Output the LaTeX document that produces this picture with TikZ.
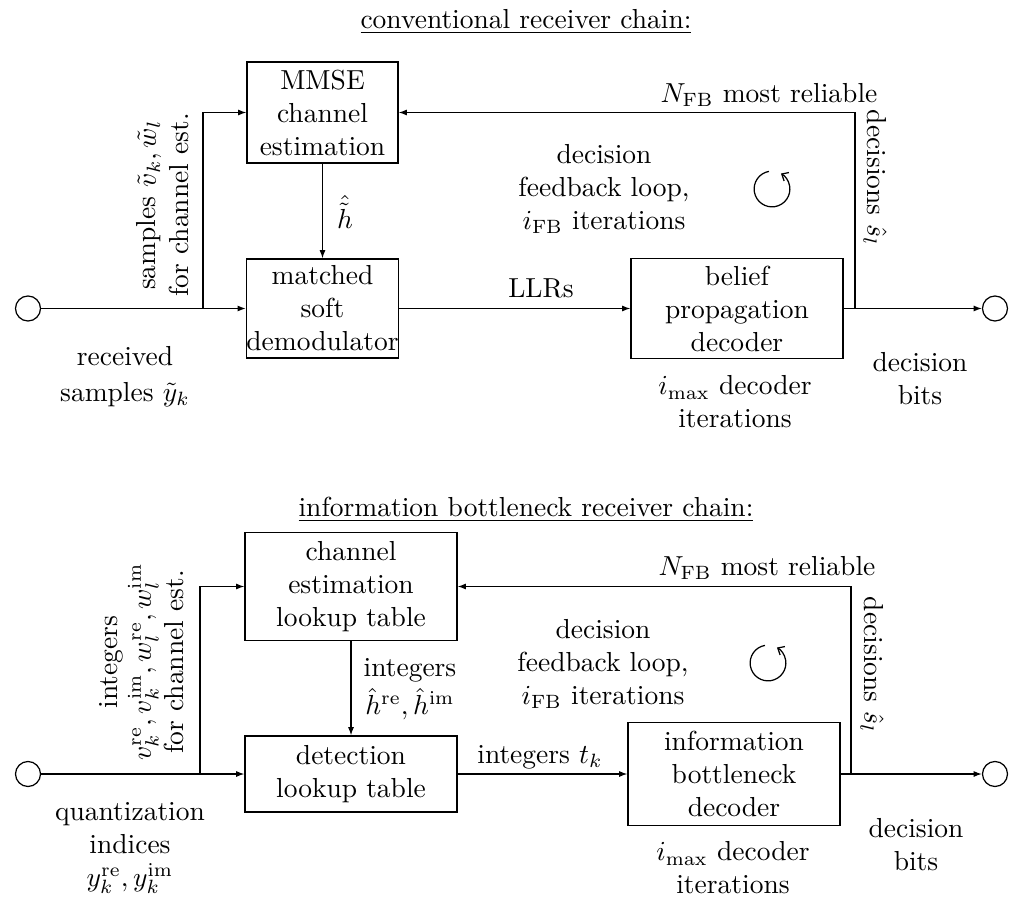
\documentclass[tikz,border=0pt]{standalone}
\usetikzlibrary{arrows.meta}
\begin{document}
\begin{tikzpicture}[x=0.3636pt,y=-0.3636pt,
  block/.style={draw, line width=0.45pt, align=center, inner sep=0pt},
  port/.style={draw, line width=0.45pt, circle, minimum size={25*0.3636pt}, inner sep=0pt},
  txt/.style={align=center, inner sep=0pt},
  flow/.style={line width=0.45pt, -{Latex[length=3pt,width=2.2pt]}},
  wire/.style={line width=0.45pt},
  loopsym/.style={line width=0.45pt, -{Straight Barb[length=2pt,width=3.5pt]}}
]
\useasboundingbox (0,0) rectangle (1012,897);

% ---------------- conventional chain ----------------
\node[txt] (t1) at (526,22) {\underline{conventional receiver chain:}};

\node[port] (in1) at (28,308.5) {};
\node[port] (out1) at (995,308.5) {};
\node[block, minimum width={151*0.3636pt}, minimum height={101*0.3636pt}] (mmse) at (322.5,112.5) {MMSE\\channel\\estimation};
\node[block, minimum width={151*0.3636pt}, minimum height={99*0.3636pt}] (demod) at (322.5,308.5) {matched\\soft\\demodulator};
\node[block, minimum width={212*0.3636pt}, minimum height={100*0.3636pt}] (bp) at (737,308.5) {belief\\propagation\\decoder};

\coordinate (br1) at (203,308.5);
\coordinate (fb1) at (855,308.5);
\draw[flow] (in1.east) -- (demod.west);
\draw[flow] (br1) |- (mmse.west);
\draw[flow] (mmse.south) -- (demod.north);
\draw[flow] (demod.east) -- (bp.west);
\draw[flow] (bp.east) -- (out1.west);
\draw[flow] (fb1) |- (mmse.east);

\node[txt, rotate=90] (l1a) at (163,205) {samples $\tilde{v}_k, \tilde{w}_l$\\for channel est.};
\node[txt] (l1b) at (345,212) {$\hat{\tilde{h}}$};
\node[txt] (l1c) at (541,288) {LLRs};
\node[txt] (l1d) at (769,95) {$N_{\mathrm{FB}}$ most reliable};
\node[txt, rotate=-90] (l1e) at (875,178) {decisions $\hat{s}_l$};
\node[txt] (l1f) at (604,189) {decision\\feedback loop,\\$i_{\mathrm{FB}}$ iterations};
\node[txt] (l1g) at (125,377) {received\\[1pt]samples $\tilde{y}_k$};
\node[txt] (l1h) at (735,402) {$i_{\max}$ decoder\\iterations};
\node[txt] (l1i) at (920,379) {decision\\bits};
\draw[loopsym] (772,189) ++(100:6.5pt) arc[start angle=100, end angle=420, radius=6.5pt];

% ---------------- information bottleneck chain ----------------
\node[txt] (t2) at (526,510) {\underline{information bottleneck receiver chain:}};

\node[port] (in2) at (28,774) {};
\node[port] (out2) at (995,774) {};
\node[block, minimum width={212*0.3636pt}, minimum height={108*0.3636pt}] (cel) at (351,586.5) {channel\\estimation\\lookup table};
\node[block, minimum width={212*0.3636pt}, minimum height={76*0.3636pt}] (det) at (351,774) {detection\\lookup table};
\node[block, minimum width={212*0.3636pt}, minimum height={103*0.3636pt}] (ibd) at (734,774) {information\\bottleneck\\decoder};

\coordinate (br2) at (200,774);
\coordinate (fb2) at (851,774);
\draw[flow] (in2.east) -- (det.west);
\draw[flow] (br2) |- (cel.west);
\draw[flow] (cel.south) -- (det.north);
\draw[flow] (det.east) -- (ibd.west);
\draw[flow] (ibd.east) -- (out2.west);
\draw[flow] (fb2) |- (cel.east);

\node[txt, rotate=90] (l2a) at (142,662) {integers\\$v_k^{\mathrm{re}}, v_k^{\mathrm{im}}, w_l^{\mathrm{re}}, w_l^{\mathrm{im}}$\\for channel est.};
\node[txt] (l2b) at (410,689) {integers\\[2pt]$\hat{h}^{\mathrm{re}}, \hat{h}^{\mathrm{im}}$};
\node[txt] (l2c) at (540,757) {integers $t_k$};
\node[txt] (l2d) at (767,568) {$N_{\mathrm{FB}}$ most reliable};
\node[txt, rotate=-90] (l2e) at (872,665) {decisions $\hat{s}_l$};
\node[txt] (l2f) at (603,664) {decision\\feedback loop,\\$i_{\mathrm{FB}}$ iterations};
\node[txt] (l2g) at (130,848) {quantization\\indices\\$y_k^{\mathrm{re}}, y_k^{\mathrm{im}}$};
\node[txt] (l2h) at (733,868) {$i_{\max}$ decoder\\iterations};
\node[txt] (l2i) at (916,845) {decision\\bits};
\draw[loopsym] (768,663) ++(100:6.5pt) arc[start angle=100, end angle=420, radius=6.5pt];
\end{tikzpicture}
\end{document}
